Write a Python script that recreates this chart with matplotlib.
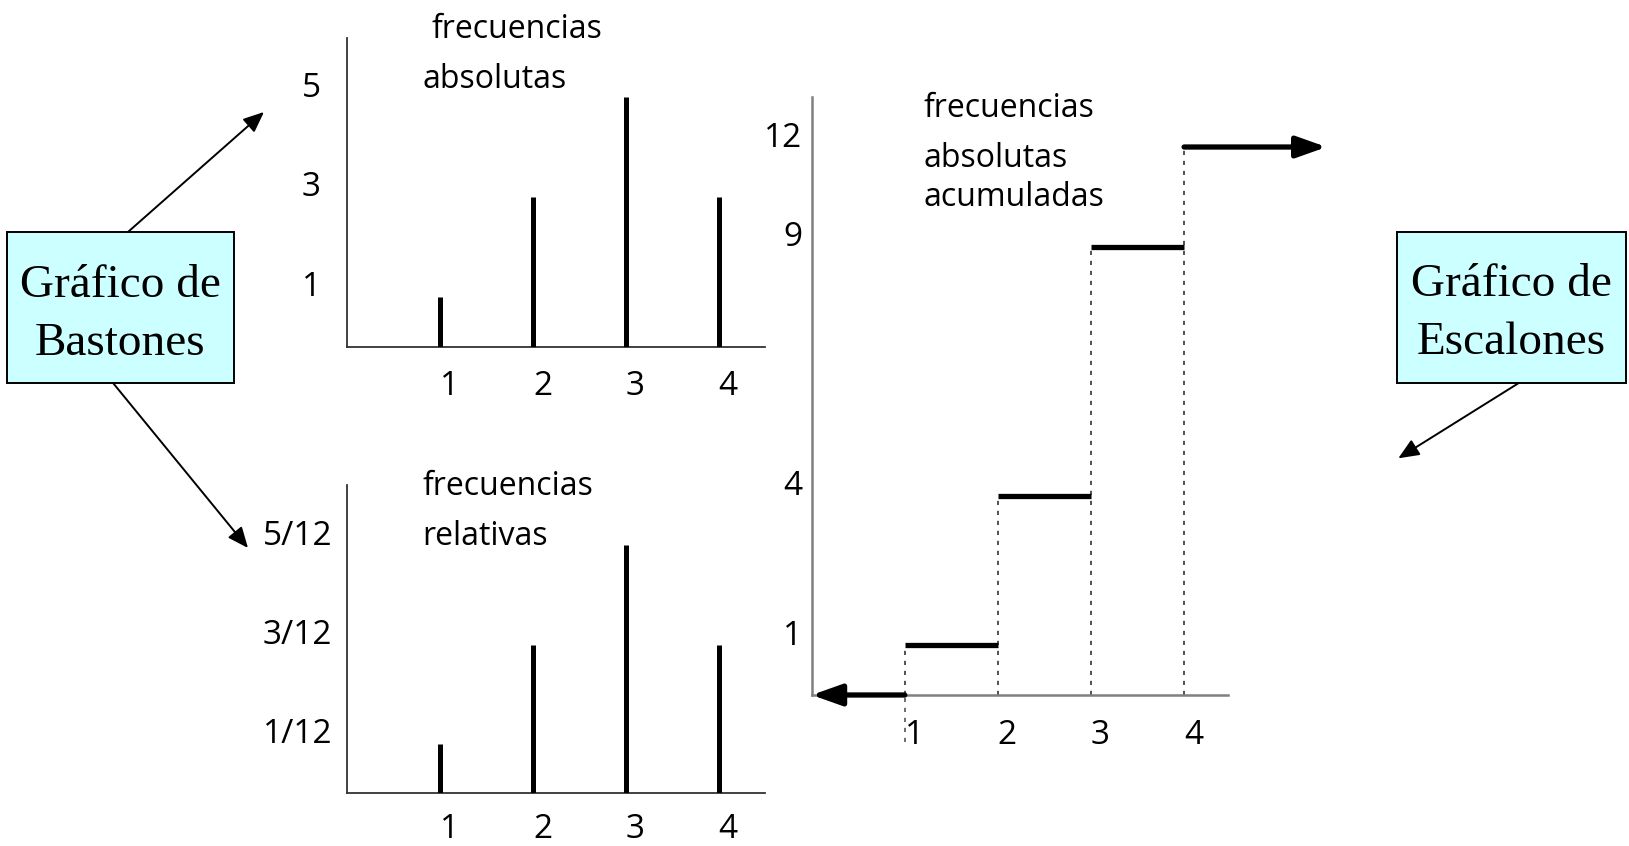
import matplotlib
matplotlib.use("Agg")
import matplotlib.pyplot as plt
from matplotlib.patches import Rectangle, FancyArrowPatch
from matplotlib.transforms import ScaledTranslation

# values
x_vals = [1, 2, 3, 4]
x_labels = ["1", "2", "3", "4"]
freq_abs = [1, 3, 5, 3]
abs_ticks = [1, 3, 5]
abs_labels = ["1", "3", "5"]
freq_rel = [1 / 12, 3 / 12, 5 / 12, 3 / 12]
rel_ticks = [1 / 12, 3 / 12, 5 / 12]
rel_labels = ["1/12", "3/12", "5/12"]
# last step is drawn lower than its label in the original drawing
cum_drawn = [1, 4, 9, 11]
cum_labels = ["1", "4", "9", "12"]

W, H = 1629, 846
fig = plt.figure(figsize=(W / 100, H / 100), dpi=100)
fig.patch.set_facecolor("white")

SANS = "Open Sans"
SERIF = "Liberation Serif"


def axes_px(left, top, right, bottom):
    return fig.add_axes([left / W, 1 - bottom / H, (right - left) / W, (bottom - top) / H])


def shift(labels, dx, dy):
    for lab in labels:
        lab.set_transform(lab.get_transform() + ScaledTranslation(dx / 100, dy / 100, fig.dpi_scale_trans))


def setup(ax, yticks, ylabels, ypad, yha, spine_col, spine_lw, xpad=17):
    for s in ["top", "right"]:
        ax.spines[s].set_visible(False)
    for s in ["left", "bottom"]:
        ax.spines[s].set_color(spine_col)
        ax.spines[s].set_linewidth(spine_lw)
    ax.set_facecolor("none")
    ax.set_xticks(x_vals, x_labels)
    ax.set_yticks(yticks, ylabels)
    ax.tick_params(axis="x", length=0, pad=xpad, labelsize=24)
    ax.tick_params(axis="y", length=0, pad=ypad, labelsize=24)
    for lab in ax.get_xticklabels() + ax.get_yticklabels():
        lab.set_fontfamily(SANS)
    for lab in ax.get_yticklabels():
        lab.set_horizontalalignment(yha)
    shift(ax.get_xticklabels(), 9.5, 0)
    shift(ax.get_yticklabels(), 0, 13)


# --- bastones: frecuencias absolutas
ax1 = axes_px(347.3, 38.3, 765, 346.7)
ax1.set_xlim(0, 4.5)
ax1.set_ylim(0, 6.18)
ax1.vlines(x_vals, 0, freq_abs, color="black", lw=3.6, capstyle="butt", zorder=3)
setup(ax1, abs_ticks, abs_labels, 26, "center", "#333333", 1.3)
ax1.text(0.91, 6.18, "frecuencias", fontsize=23, family=SANS, va="baseline", clip_on=False)
ax1.text(0.81, 5.18, "absolutas", fontsize=23, family=SANS, va="baseline")

# --- bastones: frecuencias relativas
ax2 = axes_px(347.3, 485, 765, 793.3)
ax2.set_xlim(0, 4.5)
ax2.set_ylim(0, 6.22 / 12)
ax2.vlines(x_vals, 0, freq_rel, color="black", lw=3.6, capstyle="butt", zorder=3)
setup(ax2, rel_ticks, rel_labels, 10.8, "right", "#333333", 1.3, xpad=14.5)
ax2.text(0.81, 6.01 / 12, "frecuencias", fontsize=23, family=SANS, va="baseline")
ax2.text(0.81, 5.0 / 12, "relativas", fontsize=23, family=SANS, va="baseline")

# --- escalones: frecuencias absolutas acumuladas
ax3 = axes_px(811.7, 96.7, 1228.3, 695)
ax3.set_xlim(0, 4.475)
ax3.set_ylim(0, 12.01)
ax3.hlines(cum_drawn[:3], x_vals[:3], x_vals[1:], color="black", lw=3.8, capstyle="butt", zorder=3)
ax3.vlines(x_vals, 0, cum_drawn, color="#333333", lw=1.2, linestyles=(0, (2.5, 3.5)), zorder=2)
ax3.vlines([x_vals[0]], -0.94, 0, color="#555555", lw=1.2, linestyles=(0, (2.5, 3.5)), clip_on=False)
ax3.annotate("", xy=(5.53, cum_drawn[-1]), xytext=(x_vals[-1], cum_drawn[-1]),
             arrowprops=dict(arrowstyle="-|>,head_length=0.9,head_width=0.32", lw=3.8,
                             color="black", shrinkA=0, shrinkB=0, mutation_scale=20),
             annotation_clip=False)
ax3.annotate("", xy=(0.0, 0), xytext=(x_vals[0], 0),
             arrowprops=dict(arrowstyle="-|>,head_length=0.9,head_width=0.32", lw=3.8,
                             color="black", shrinkA=0, shrinkB=0, mutation_scale=20),
             annotation_clip=False, zorder=4)
setup(ax3, cum_drawn, cum_labels, 7, "right", "#808080", 1.8)
ax3.text(1.2, 11.61, "frecuencias", fontsize=23, family=SANS, va="baseline")
ax3.text(1.2, 10.6, "absolutas", fontsize=23, family=SANS, va="baseline")
ax3.text(1.2, 9.82, "acumuladas", fontsize=23, family=SANS, va="baseline")


# --- cajas de texto
def box(left, top, right, bottom, lines, cx, baselines):
    fig.add_artist(Rectangle((left / W, 1 - bottom / H), (right - left) / W, (bottom - top) / H,
                             transform=fig.transFigure, facecolor="#ccffff", edgecolor="black", lw=1.4))
    for txt, b in zip(lines, baselines):
        fig.text(cx / W, 1 - b / H, txt, fontsize=34, family=SERIF, ha="center", va="baseline")


def arrow(x1, y1, x2, y2):
    fig.add_artist(FancyArrowPatch((x1 / W, 1 - y1 / H), (x2 / W, 1 - y2 / H), transform=fig.transFigure,
                                   arrowstyle="-|>,head_length=0.7,head_width=0.3", mutation_scale=18,
                                   lw=1.4, color="black", shrinkA=0, shrinkB=0))


box(6.7, 231.7, 234, 382.7, ["Gráfico de", "Bastones"], 120.4, [296.7, 355])
box(1397.3, 231.7, 1626, 383.3, ["Gráfico de", "Escalones"], 1511.5, [296, 354])
arrow(128.3, 231.7, 264, 112)
arrow(113.3, 383.3, 248, 548)
arrow(1518.3, 383.3, 1398.3, 458.3)

fig.savefig("out.png", dpi=100)
